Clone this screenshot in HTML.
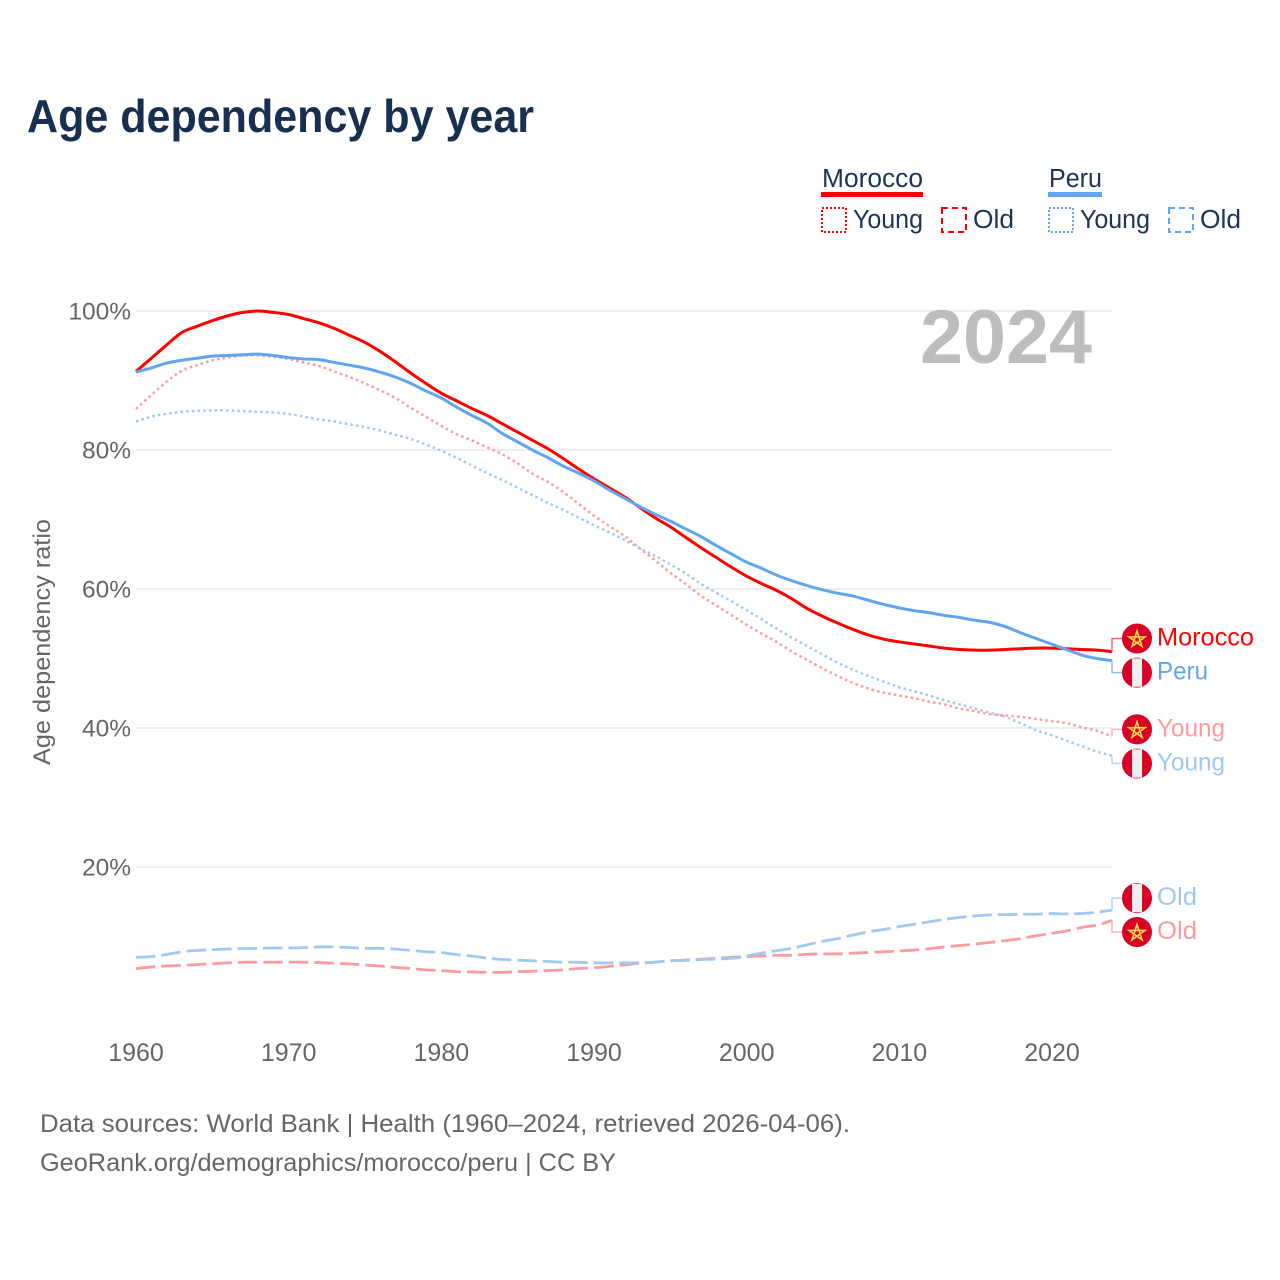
<!DOCTYPE html>
<html lang="en">
<head>
<meta charset="utf-8">
<title>Age dependency by year</title>
<style>
html,body{margin:0;padding:0;background:#fff;}
svg{display:block;font-family:"Liberation Sans",sans-serif;}
</style>
</head>
<body>
<svg id="chart" width="1280" height="1280" viewBox="0 0 1280 1280" xmlns="http://www.w3.org/2000/svg">
  <rect x="0" y="0" width="1280" height="1280" fill="#ffffff"/>
  <text x="27" y="132" font-size="46" font-weight="700" fill="#17304f" textLength="507" lengthAdjust="spacingAndGlyphs">Age dependency by year</text>

  <g>
    <text x="822" y="187" font-size="25.5" fill="#1a3555" textLength="101" lengthAdjust="spacingAndGlyphs">Morocco</text>
    <rect x="821" y="192" width="102" height="5" fill="#ff0000"/>
    <rect x="822" y="208" width="24" height="24" fill="none" stroke="#ff0000" stroke-width="2" stroke-dasharray="2 2"/>
    <text x="853" y="228" font-size="25.5" fill="#1a3555" textLength="70" lengthAdjust="spacingAndGlyphs">Young</text>
    <rect x="942" y="208" width="24" height="24" fill="none" stroke="#ff0000" stroke-width="2" stroke-dasharray="6 4"/>
    <text x="973" y="228" font-size="25.5" fill="#1a3555" textLength="41" lengthAdjust="spacingAndGlyphs">Old</text>
    <text x="1049" y="187" font-size="25.5" fill="#1a3555" textLength="53" lengthAdjust="spacingAndGlyphs">Peru</text>
    <rect x="1048" y="192" width="54" height="5" fill="#60a5ef"/>
    <rect x="1049" y="208" width="24" height="24" fill="none" stroke="#60a5ef" stroke-width="2" stroke-dasharray="2 2"/>
    <text x="1080" y="228" font-size="25.5" fill="#1a3555" textLength="70" lengthAdjust="spacingAndGlyphs">Young</text>
    <rect x="1169" y="208" width="24" height="24" fill="none" stroke="#60a5ef" stroke-width="2" stroke-dasharray="6 4"/>
    <text x="1200" y="228" font-size="25.5" fill="#1a3555" textLength="41" lengthAdjust="spacingAndGlyphs">Old</text>
  </g>

  <g id="grid"></g>
  <text x="920" y="363" font-size="76" font-weight="700" fill="#bdbdbd" textLength="172" lengthAdjust="spacingAndGlyphs">2024</text>
  <g id="yticks"></g>
  <g id="xticks"></g>
  <text transform="translate(50,765) rotate(-90)" x="0" y="0" font-size="24" fill="#666666" textLength="246" lengthAdjust="spacingAndGlyphs">Age dependency ratio</text>
  <g id="series"></g>
  <g id="endlabels"></g>

  <text x="40" y="1132" font-size="25" fill="#666666" textLength="810" lengthAdjust="spacingAndGlyphs">Data sources: World Bank | Health (1960–2024, retrieved 2026-04-06).</text>
  <text x="40" y="1171" font-size="25" fill="#666666" textLength="576" lengthAdjust="spacingAndGlyphs">GeoRank.org/demographics/morocco/peru | CC BY</text>
</svg>

<script>
const years = [1960,1961,1962,1963,1964,1965,1966,1967,1968,1969,1970,1971,1972,1973,1974,1975,1976,1977,1978,1979,1980,1981,1982,1983,1984,1985,1986,1987,1988,1989,1990,1991,1992,1993,1994,1995,1996,1997,1998,1999,2000,2001,2002,2003,2004,2005,2006,2007,2008,2009,2010,2011,2012,2013,2014,2015,2016,2017,2018,2019,2020,2021,2022,2023,2024];
const moroccoTotal = [91.3,93.2,95.1,96.9,97.8,98.6,99.3,99.8,100,99.8,99.5,98.9,98.3,97.5,96.5,95.5,94.2,92.7,91.1,89.6,88.2,87.1,86,85,83.8,82.6,81.4,80.2,78.8,77.3,75.9,74.6,73.3,71.8,70.3,69,67.5,66,64.6,63.2,61.9,60.8,59.8,58.6,57.2,56.1,55.1,54.2,53.4,52.8,52.4,52.1,51.8,51.5,51.3,51.2,51.2,51.3,51.4,51.5,51.5,51.4,51.3,51.2,51];
const peruTotal = [91.2,91.8,92.5,92.9,93.2,93.5,93.6,93.7,93.8,93.6,93.3,93.1,93,92.6,92.2,91.8,91.2,90.5,89.6,88.5,87.5,86.2,85,83.9,82.4,81.2,80,78.9,77.7,76.7,75.6,74.3,73.1,71.9,70.8,69.8,68.7,67.6,66.3,65.1,63.9,63,62,61.2,60.5,59.9,59.4,59,58.4,57.8,57.3,56.9,56.6,56.2,55.9,55.5,55.2,54.6,53.7,52.9,52.1,51.3,50.5,50,49.7];
const moroccoYoung = [85.9,87.9,89.8,91.4,92.2,92.9,93.3,93.6,93.6,93.4,93.1,92.6,92.1,91.3,90.5,89.6,88.6,87.5,86.1,84.8,83.5,82.3,81.4,80.4,79.4,78.1,76.6,75.4,74,72.3,70.6,69.1,67.7,65.9,64.2,62.4,60.8,59.1,57.7,56.3,54.9,53.6,52.4,51,49.8,48.6,47.5,46.5,45.7,45.1,44.7,44.3,43.8,43.4,42.8,42.4,42,41.8,41.6,41.3,41,40.7,40.1,39.6,38.8];
const peruYoung = [84.1,84.8,85.2,85.5,85.6,85.7,85.7,85.6,85.5,85.4,85.2,84.8,84.4,84.1,83.7,83.3,82.8,82.2,81.6,80.8,79.9,78.9,77.8,76.7,75.7,74.6,73.5,72.4,71.4,70.3,69.2,68.2,67.1,65.9,64.8,63.6,62.3,60.8,59.5,58.3,57,55.7,54.3,53,51.8,50.6,49.4,48.4,47.5,46.7,45.9,45.3,44.7,44,43.4,42.8,42.2,41.6,40.7,39.7,39,38.2,37.4,36.6,36];
const moroccoOld = [5.4,5.6,5.75,5.85,5.95,6.1,6.2,6.3,6.3,6.3,6.33,6.3,6.25,6.15,6.05,5.9,5.75,5.55,5.4,5.2,5.1,4.95,4.9,4.85,4.85,4.95,5,5.1,5.2,5.4,5.5,5.7,5.9,6.15,6.3,6.5,6.6,6.75,6.85,7,7.1,7.2,7.3,7.3,7.45,7.5,7.5,7.6,7.7,7.8,7.9,8.05,8.25,8.5,8.7,8.9,9.15,9.4,9.7,10.1,10.45,10.8,11.3,11.65,12.3];
const peruOld = [7,7.1,7.4,7.8,8,8.1,8.2,8.25,8.3,8.35,8.35,8.4,8.5,8.5,8.4,8.3,8.3,8.2,8,7.8,7.7,7.4,7.2,6.9,6.7,6.6,6.5,6.4,6.3,6.3,6.2,6.2,6.2,6.2,6.3,6.5,6.55,6.7,6.75,6.85,7.15,7.6,7.95,8.3,8.8,9.3,9.7,10.2,10.65,11,11.4,11.75,12.1,12.45,12.75,12.95,13.1,13.15,13.2,13.2,13.3,13.25,13.3,13.5,13.8];
const yTickValues = [20,40,60,80,100];
const yTickLabels = ["20%","40%","60%","80%","100%"];
const xTickValues = [1960,1970,1980,1990,2000,2010,2020];
const xTickLabels = ["1960","1970","1980","1990","2000","2010","2020"];

const NS = "http://www.w3.org/2000/svg";
function xScale(year) { return 136 + (year - 1960) * 15.25; }
function yScale(value) { return 1006 - value * 6.95; }
function make(tag, parent) {
  const el = document.createElementNS(NS, tag);
  parent.appendChild(el);
  return el;
}

const gridGroup = document.getElementById("grid");
const yTickGroup = document.getElementById("yticks");
yTickValues.forEach(function (value, i) {
  const line = make("line", gridGroup);
  
  
  line.setAttribute("x1", 136);
  line.setAttribute("x2", xScale(2024));
  line.setAttribute("y1", yScale(value));
  line.setAttribute("y2", yScale(value));
  line.setAttribute("stroke", "#e8e8e8");
  line.setAttribute("stroke-width", "1.5");
  const label = make("text", yTickGroup);
  
  
  label.setAttribute("x", 131);
  label.setAttribute("y", yScale(value) + 8.5);
  label.setAttribute("text-anchor", "end");
  label.setAttribute("font-size", "24.5");
  label.setAttribute("fill", "#666666");
  label.textContent = yTickLabels[i];
});

const xTickGroup = document.getElementById("xticks");
xTickValues.forEach(function (year, i) {
  const label = make("text", xTickGroup);
  
  
  label.setAttribute("x", xScale(year) + (year - 1960) * 0.017);
  label.setAttribute("y", 1061);
  label.setAttribute("text-anchor", "middle");
  label.setAttribute("font-size", "25");
  label.setAttribute("fill", "#666666");
  label.textContent = xTickLabels[i];
});

const seriesGroup = document.getElementById("series");
function smoothPath(values) {
  const pts = values.map(function (v, i) { return [xScale(years[i]), yScale(v)]; });
  let d = "M" + pts[0][0].toFixed(2) + " " + pts[0][1].toFixed(2);
  for (let i = 0; i < pts.length - 1; i++) {
    const p0 = pts[Math.max(i - 1, 0)];
    const p1 = pts[i];
    const p2 = pts[i + 1];
    const p3 = pts[Math.min(i + 2, pts.length - 1)];
    const c1x = p1[0] + (p2[0] - p0[0]) / 6;
    const c1y = p1[1] + (p2[1] - p0[1]) / 6;
    const c2x = p2[0] - (p3[0] - p1[0]) / 6;
    const c2y = p2[1] - (p3[1] - p1[1]) / 6;
    d += "C" + c1x.toFixed(2) + " " + c1y.toFixed(2) + " " + c2x.toFixed(2) + " " + c2y.toFixed(2) + " " + p2[0].toFixed(2) + " " + p2[1].toFixed(2);
  }
  return d;
}
function drawLine(values, name, color, width, dash) {
  const path = make("path", seriesGroup);
  
  
  path.setAttribute("d", smoothPath(values));
  path.setAttribute("fill", "none");
  path.setAttribute("stroke", color);
  path.setAttribute("stroke-width", width);
  path.setAttribute("stroke-linejoin", "round");
  if (dash) path.setAttribute("stroke-dasharray", dash);
}

const labelGroup = document.getElementById("endlabels");
function pentagram(cx, cy, r) {
  const pts = [];
  for (let k = 0; k < 5; k++) {
    const a = -Math.PI / 2 + k * 2 * (2 * Math.PI / 5);
    pts.push((cx + r * Math.cos(a)).toFixed(2) + "," + (cy + r * Math.sin(a)).toFixed(2));
  }
  return pts.join(" ");
}
function drawEnd(values, text, textWidth, color, leaderColor, flag, offset) {
  const endY = yScale(values[values.length - 1]);
  const endX = xScale(2024);
  const cy = endY + offset;

  const leader = make("polyline", labelGroup);
  
  
  leader.setAttribute("points", endX + "," + endY + " " + endX + "," + cy + " 1124," + cy);
  leader.setAttribute("fill", "none");
  leader.setAttribute("stroke", leaderColor);
  leader.setAttribute("stroke-width", "1.5");

  const disc = make("circle", labelGroup);
  
  
  disc.setAttribute("cx", 1137);
  disc.setAttribute("cy", cy);
  disc.setAttribute("r", 15);
  disc.setAttribute("fill", "#d80027");

  if (flag === "peru") {
    const stripe = make("rect", labelGroup);
    
    
    stripe.setAttribute("x", 1132);
    stripe.setAttribute("y", cy - 14.2);
    stripe.setAttribute("width", 10);
    stripe.setAttribute("height", 28.4);
    stripe.setAttribute("fill", "#eeeeee");
  } else {
    const star = make("polygon", labelGroup);
    
    
    star.setAttribute("points", pentagram(1137, cy + 1, 8.5));
    star.setAttribute("fill", "none");
    star.setAttribute("stroke", "#ffda44");
    star.setAttribute("stroke-width", "1.6");
  }

  const label = make("text", labelGroup);
  
  
  label.setAttribute("x", 1157);
  label.setAttribute("y", cy + 7);
  label.setAttribute("font-size", "25");
  label.setAttribute("fill", color);
  label.setAttribute("textLength", textWidth);
  label.setAttribute("lengthAdjust", "spacingAndGlyphs");
  label.textContent = text;
}

drawLine(moroccoYoung, "morocco-young-line", "#ff9a9e", 2.5, "2.5 3.2");
drawLine(moroccoOld, "morocco-old-line", "#ff9a9e", 2.8, "19.5 6");
drawLine(peruYoung, "peru-young-line", "#a0c8f0", 2.5, "2.5 3.2");
drawLine(peruOld, "peru-old-line", "#a0c8f0", 2.8, "19.5 6");
drawLine(moroccoTotal, "morocco-total-line", "#ff0000", 3);
drawLine(peruTotal, "peru-total-line", "#60a5ef", 3);

drawEnd(moroccoTotal, "Morocco", 97, "#ff0000", "#ff6666", "morocco", -13);
drawEnd(peruTotal, "Peru", 51, "#60a5ef", "#8fc0f4", "peru", 12);
drawEnd(moroccoYoung, "Young", 68, "#ff9a9e", "#ffb0b0", "morocco", -7);
drawEnd(peruYoung, "Young", 68, "#a0c8f0", "#b4d4f4", "peru", 7.7);
drawEnd(peruOld, "Old", 40, "#a0c8f0", "#b4d4f4", "peru", -12);
drawEnd(moroccoOld, "Old", 40, "#ff9a9e", "#ffb0b0", "morocco", 11.5);
</script>
</body>
</html>
